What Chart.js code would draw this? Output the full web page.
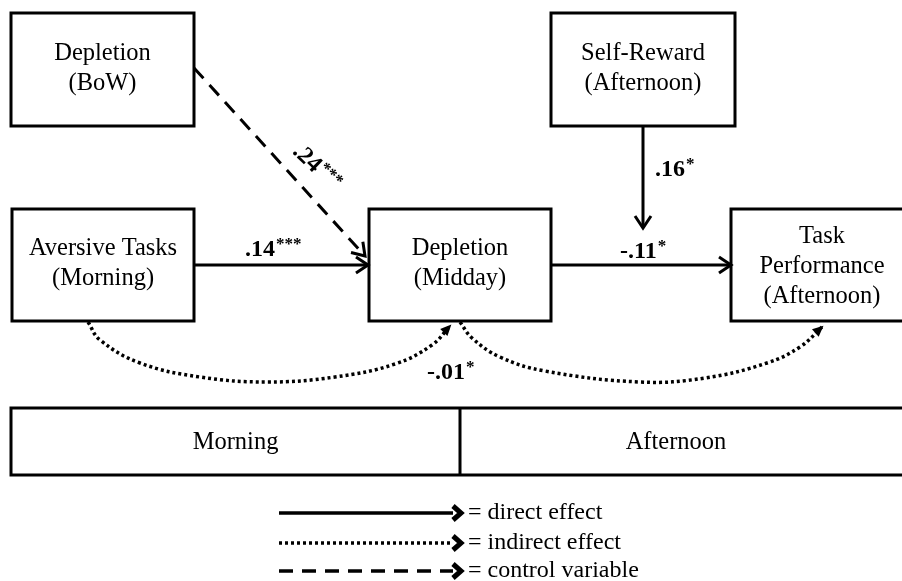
<!DOCTYPE html>
<html lang="en">
<head>
<meta charset="UTF-8" />
<title>Depletion path model</title>
<script src="https://cdn.jsdelivr.net/npm/chart.js"></script>
<style>
  html, body { margin: 0; padding: 0; background: #fff; }
  #wrap { width: 902px; height: 581px; }
</style>
</head>
<body>
<div id="wrap"><canvas id="diagram" width="902" height="581"></canvas></div>
<script>
  // boxes (diagram units = picture pixels)
  const boxLabels = [["Depletion", "(BoW)"], ["Aversive Tasks", "(Morning)"], ["Depletion", "(Midday)"], ["Self-Reward", "(Afternoon)"], ["Task", "Performance", "(Afternoon)"]];
  const boxLeft = [11, 12, 369, 551, 731];
  const boxRight = [194, 194, 551, 735, 906];
  const boxTop = [13, 209, 209, 13, 209];
  const boxBottom = [126, 321, 321, 126, 321];

  // time band under the model
  const bandLabels = ["Morning", "Afternoon"];
  const bandEdges = [11, 460, 906];
  const bandTop = 408, bandBottom = 475;

  // paths: coefficient, significance stars, style, points
  const pathCoefs = [".14", ".24", ".16", "-.11", "-.01"];
  const pathStars = ["***", "***", "*", "*", "*"];
  const pathStyles = ["direct", "control", "direct", "direct", "indirect", "indirect"];
  const pathPoints = [
    [[194, 265], [368, 265]],
    [[194, 68], [365, 256]],
    [[643, 126], [643, 228]],
    [[552, 265], [731, 265]],
    [[88, 322], [100, 340], [140, 363], [200, 377], [267, 382], [335, 377], [395, 364], [432, 345], [450, 326]],
    [[460, 322], [472, 338], [500, 357], [545, 371], [640, 382], [705, 378], [767, 363], [800, 347], [822, 327]]
  ];
  const labelAt = [[245, 250], [296, 148], [655, 170], [620, 252], [427, 373]];

  // legend
  const legendLabels = ["= direct effect", "= indirect effect", "= control variable"];
  const legendStyles = ["direct", "indirect", "control"];
  const legendRows = [513, 543, 571];

  const FONT = '"Liberation Serif", "DejaVu Serif", serif';
  const dashes = { direct: [], indirect: [3, 3], control: [14, 9] };

  function line(points, style, width, tension, cap) {
    return {
      data: points.map(([x, y]) => ({ x, y })),
      borderColor: '#000',
      borderWidth: width,
      borderDash: dashes[style] || [],
      borderJoinStyle: 'miter',
      borderCapStyle: cap || 'butt',
      tension: tension || 0,
      pointRadius: 0,
      fill: false,
      clip: false
    };
  }

  const datasets = [];
  boxLeft.forEach((x0, i) => {
    const x1 = boxRight[i], y0 = boxTop[i], y1 = boxBottom[i];
    datasets.push(line([[x0, y0], [x1, y0], [x1, y1], [x0, y1], [x0, y0]], 'direct', 3, 0, 'square'));
  });
  datasets.push(line([[bandEdges[0], bandTop], [bandEdges[2], bandTop], [bandEdges[2], bandBottom], [bandEdges[0], bandBottom], [bandEdges[0], bandTop]], 'direct', 3, 0, 'square'));
  datasets.push(line([[bandEdges[1], bandTop], [bandEdges[1], bandBottom]], 'direct', 3));
  pathPoints.forEach((pts, i) => {
    const style = pathStyles[i];
    datasets.push(line(pts, style, style === 'indirect' ? 3.5 : 3, pts.length > 2 ? 0.4 : 0));
  });
  legendRows.forEach((y, i) => {
    datasets.push(line([[279, y], [453, y]], legendStyles[i], 3.5));
  });

  function arrowHead(ctx, tip, from, kind) {
    const a = Math.atan2(tip.y - from.y, tip.x - from.x);
    ctx.save();
    ctx.translate(tip.x, tip.y);
    ctx.rotate(a);
    ctx.setLineDash([]);
    ctx.strokeStyle = '#000';
    ctx.fillStyle = '#000';
    if (kind === 'filled') {
      ctx.beginPath();
      ctx.moveTo(2, 0); ctx.lineTo(-9, -5); ctx.lineTo(-9, 5); ctx.closePath();
      ctx.fill();
    } else if (kind === 'fat') {
      ctx.lineWidth = 5;
      ctx.lineJoin = 'miter';
      ctx.beginPath();
      ctx.moveTo(-8, -7); ctx.lineTo(0, 0); ctx.lineTo(-8, 7);
      ctx.stroke();
    } else {
      ctx.lineWidth = 3;
      ctx.lineJoin = 'miter';
      ctx.beginPath();
      ctx.moveTo(-12, -8); ctx.lineTo(0, 0); ctx.lineTo(-12, 8);
      ctx.stroke();
    }
    ctx.restore();
  }

  function coef(ctx, text, stars, x, y) {
    ctx.font = 'bold 24px ' + FONT;
    ctx.textAlign = 'left';
    ctx.textBaseline = 'middle';
    ctx.fillText(text, x, y);
    const w = ctx.measureText(text).width;
    ctx.font = 'bold 17px ' + FONT;
    ctx.fillText(stars, x + w + 1, y - 5);
  }

  const diagramText = {
    id: 'diagramText',
    afterDatasetsDraw(chart) {
      const { ctx, scales: { x, y } } = chart;
      const px = v => x.getPixelForValue(v), py = v => y.getPixelForValue(v);
      ctx.save();
      ctx.fillStyle = '#000';

      // box texts
      ctx.font = '24.5px ' + FONT;
      ctx.textAlign = 'center';
      ctx.textBaseline = 'middle';
      boxLabels.forEach((lines, i) => {
        const cx = i === 4 ? 822 : (boxLeft[i] + boxRight[i]) / 2;
        const cy = (boxTop[i] + boxBottom[i]) / 2 + (lines.length > 2 ? 2 : -1);
        lines.forEach((t, k) => {
          ctx.fillText(t, px(cx), py(cy + (k - (lines.length - 1) / 2) * 30));
        });
      });
      bandLabels.forEach((t, i) => {
        ctx.fillText(t, px((bandEdges[i] + bandEdges[i + 1]) / 2 + (i === 0 ? 0 : -7)), py(443));
      });

      // arrowheads
      pathPoints.forEach((pts, i) => {
        const n = pts.length;
        const tip = { x: px(pts[n - 1][0]), y: py(pts[n - 1][1]) };
        const from = { x: px(pts[n - 2][0]), y: py(pts[n - 2][1]) };
        arrowHead(ctx, tip, from, pathStyles[i] === 'indirect' ? 'filled' : 'open');
      });
      legendRows.forEach((r) => {
        arrowHead(ctx, { x: px(461), y: py(r) }, { x: px(400), y: py(r) }, 'fat');
      });

      // coefficients
      pathCoefs.forEach((t, i) => {
        const [lx, ly] = labelAt[i];
        if (pathStyles[i] === 'control') {
          ctx.save();
          ctx.translate(px(lx), py(ly));
          ctx.rotate(44 * Math.PI / 180);
          coef(ctx, t, pathStars[i], 0, 0);
          ctx.restore();
        } else {
          coef(ctx, t, pathStars[i], px(lx), py(ly));
        }
      });

      // legend texts
      ctx.font = '24px ' + FONT;
      ctx.textAlign = 'left';
      ctx.textBaseline = 'middle';
      legendLabels.forEach((t, i) => ctx.fillText(t, px(468), py(legendRows[i])));
      ctx.restore();
    }
  };

  new Chart(document.getElementById('diagram'), {
    type: 'line',
    data: { datasets },
    options: {
      responsive: false,
      animation: false,
      devicePixelRatio: 1,
      events: [],
      layout: { padding: 0 },
      plugins: { legend: { display: false }, tooltip: { enabled: false } },
      scales: {
        x: { type: 'linear', min: 0, max: 902, display: false },
        y: { type: 'linear', min: 0, max: 581, reverse: true, display: false }
      }
    },
    plugins: [diagramText]
  });
</script>
</body>
</html>
